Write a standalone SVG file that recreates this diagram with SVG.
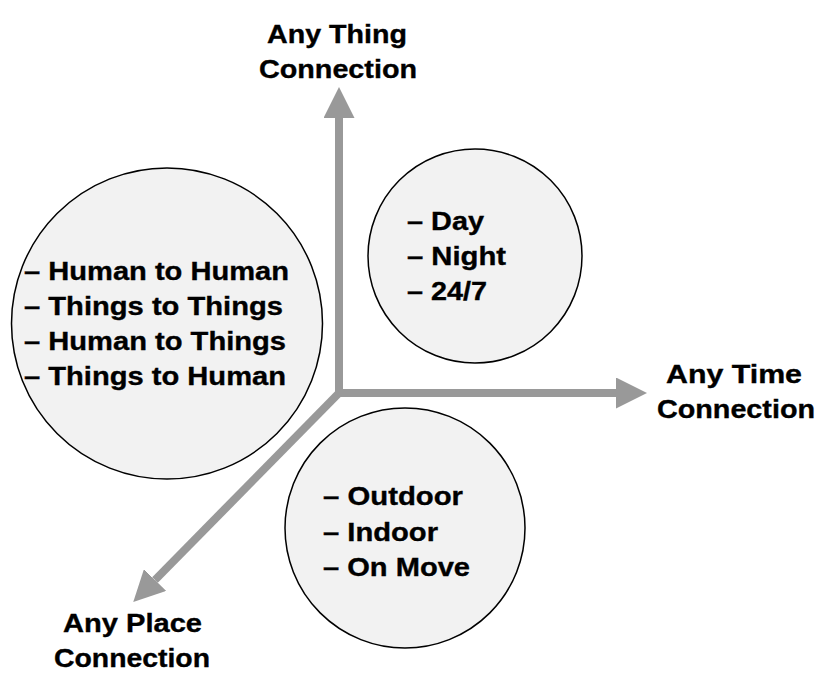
<svg xmlns="http://www.w3.org/2000/svg" width="828" height="686" viewBox="0 0 828 686">
<style>
text{font-family:"Liberation Sans",Arial,sans-serif;font-weight:bold;font-size:25px;fill:#000;stroke:#000;stroke-width:0.35}
.c{fill:#f2f2f2;stroke:#000;stroke-width:1.5}
.ax{stroke:#999;stroke-width:8;fill:none}
.mid{text-anchor:middle}
</style>
<defs>
<marker id="ah" markerUnits="userSpaceOnUse" viewBox="0 0 31 31" refX="0" refY="15.5" markerWidth="31" markerHeight="31" orient="auto">
<path d="M0,0 L31,15.5 L0,31 Z" fill="#999"/>
</marker>
</defs>
<rect width="828" height="686" fill="#fff"/>
<g id="node-who">
<circle class="c" cx="167" cy="323.5" r="155.5"/>
<text x="24" y="280" textLength="265" lengthAdjust="spacingAndGlyphs">– Human to Human</text>
<text x="24" y="315" textLength="259" lengthAdjust="spacingAndGlyphs">– Things to Things</text>
<text x="24" y="350" textLength="262" lengthAdjust="spacingAndGlyphs">– Human to Things</text>
<text x="24" y="385" textLength="262" lengthAdjust="spacingAndGlyphs">– Things to Human</text>
</g>
<g id="node-when">
<circle class="c" cx="475" cy="256" r="107"/>
<text x="407" y="230" textLength="77" lengthAdjust="spacingAndGlyphs">– Day</text>
<text x="407" y="265" textLength="99" lengthAdjust="spacingAndGlyphs">– Night</text>
<text x="407" y="300" textLength="80" lengthAdjust="spacingAndGlyphs">– 24/7</text>
</g>
<g id="node-where">
<circle class="c" cx="405" cy="528" r="120"/>
<text x="323" y="505" textLength="140" lengthAdjust="spacingAndGlyphs">– Outdoor</text>
<text x="323" y="540.5" textLength="115" lengthAdjust="spacingAndGlyphs">– Indoor</text>
<text x="323" y="576" textLength="147" lengthAdjust="spacingAndGlyphs">– On Move</text>
</g>
<g id="connectors">
<line class="ax" x1="339" y1="397" x2="339" y2="118" marker-end="url(#ah)"/>
<line class="ax" x1="335" y1="393" x2="616" y2="393" marker-end="url(#ah)"/>
<line class="ax" x1="339" y1="393" x2="155" y2="580" marker-end="url(#ah)"/>
</g>
<g id="label-thing">
<text class="mid" x="337" y="43" textLength="140" lengthAdjust="spacingAndGlyphs">Any Thing</text>
<text class="mid" x="338" y="78" textLength="158" lengthAdjust="spacingAndGlyphs">Connection</text>
</g>
<g id="label-time">
<text class="mid" x="734" y="383" textLength="136" lengthAdjust="spacingAndGlyphs">Any Time</text>
<text class="mid" x="736" y="418" textLength="158" lengthAdjust="spacingAndGlyphs">Connection</text>
</g>
<g id="label-place">
<text class="mid" x="132.5" y="632" textLength="139" lengthAdjust="spacingAndGlyphs">Any Place</text>
<text class="mid" x="132" y="667" textLength="156" lengthAdjust="spacingAndGlyphs">Connection</text>
</g>
</svg>
